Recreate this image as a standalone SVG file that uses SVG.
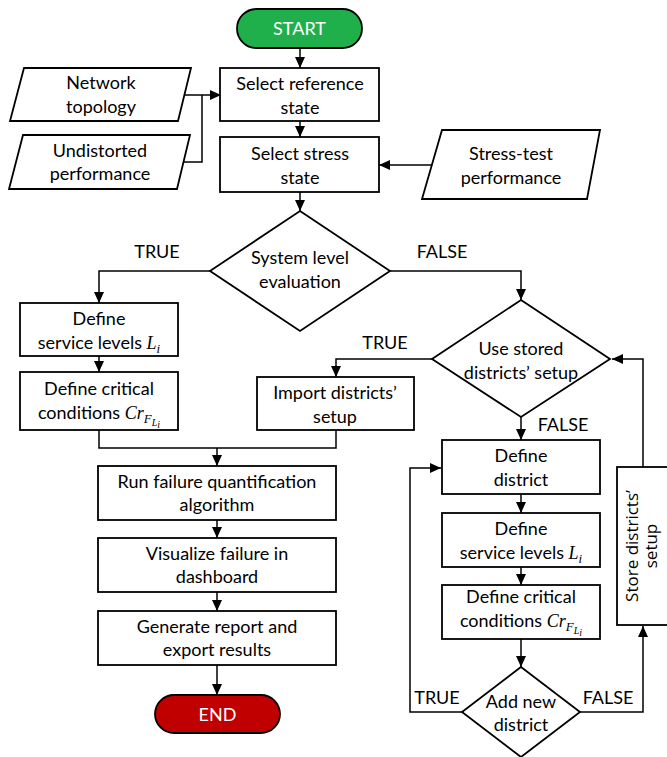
<svg xmlns="http://www.w3.org/2000/svg" width="667" height="757" viewBox="0 0 667 757">
<style>
.b{fill:#fff;stroke:#000;stroke-width:1.8}
.c{fill:none;stroke:#000;stroke-width:1.5}
.t{font-family:Lato,"Open Sans","Liberation Sans",sans-serif;font-size:18px;fill:#000;text-anchor:middle}
.m{font-family:"Liberation Serif","DejaVu Serif",serif;font-style:italic}
.s{font-size:13px}
.ss{font-size:10px}
.w{fill:#fff}
</style>
<defs>
<marker id="a" markerUnits="userSpaceOnUse" markerWidth="11" markerHeight="10" refX="11" refY="5" orient="auto"><path d="M0,0 L11,5 L0,10 z" fill="#000"/></marker>
</defs>
<rect width="667" height="757" fill="#fff"/>
<g id="connectors">
<path class="c" d="M300,48 V68" marker-end="url(#a)"/>
<path class="c" d="M300,121 V137" marker-end="url(#a)"/>
<path class="c" d="M184,95 H221" marker-end="url(#a)"/>
<path class="c" d="M183,162 H202 V95"/>
<path class="c" d="M432,165 H379" marker-end="url(#a)"/>
<path class="c" d="M300,192 V211" marker-end="url(#a)"/>
<path class="c" d="M210,271 H99 V303" marker-end="url(#a)"/>
<path class="c" d="M390,271 H521 V300" marker-end="url(#a)"/>
<path class="c" d="M99,356 V372" marker-end="url(#a)"/>
<path class="c" d="M432,359 H336 V377" marker-end="url(#a)"/>
<path class="c" d="M99,430 V448 H336 V430"/>
<path class="c" d="M217,448 V466" marker-end="url(#a)"/>
<path class="c" d="M217,520 V538" marker-end="url(#a)"/>
<path class="c" d="M217,592 V611" marker-end="url(#a)"/>
<path class="c" d="M217,665 V695" marker-end="url(#a)"/>
<path class="c" d="M521,417 V440" marker-end="url(#a)"/>
<path class="c" d="M521,494 V513" marker-end="url(#a)"/>
<path class="c" d="M521,567 V585" marker-end="url(#a)"/>
<path class="c" d="M521,639 V667" marker-end="url(#a)"/>
<path class="c" d="M462,712 H410 V468 H441" marker-end="url(#a)"/>
<path class="c" d="M580,712 H643 V626" marker-end="url(#a)"/>
<path class="c" d="M643,467 V359 H612" marker-end="url(#a)"/>
<text class="t" x="157" y="258">TRUE</text>
<text class="t" x="442" y="258">FALSE</text>
<text class="t" x="385" y="349">TRUE</text>
<text class="t" x="563" y="431">FALSE</text>
<text class="t" x="437" y="704">TRUE</text>
<text class="t" x="608" y="704">FALSE</text>
</g>
<g id="start">
<rect x="237" y="9" width="125" height="39" rx="19.5" fill="#1fb04b" stroke="#000" stroke-width="1.8"/>
<text class="t w" x="299.5" y="35">START</text>
</g>
<g id="network-topology">
<polygon class="b" points="24,68 191,68 178,121 10,121"/>
<text class="t" x="101" y="89">Network</text>
<text class="t" x="101" y="113">topology</text>
</g>
<g id="undistorted-performance">
<polygon class="b" points="23,135 190,135 177,189 9,189"/>
<text class="t" x="100" y="157">Undistorted</text>
<text class="t" x="100" y="180">performance</text>
</g>
<g id="select-reference">
<rect class="b" x="220" y="68" width="159" height="53"/>
<text class="t" x="300" y="90">Select reference</text>
<text class="t" x="300" y="114">state</text>
</g>
<g id="select-stress">
<rect class="b" x="220" y="137" width="159" height="55"/>
<text class="t" x="300" y="160">Select stress</text>
<text class="t" x="300" y="184">state</text>
</g>
<g id="stress-test-performance">
<polygon class="b" points="442,130 600,130 587,199 422,199"/>
<text class="t" x="511" y="160">Stress-test</text>
<text class="t" x="511" y="184">performance</text>
</g>
<g id="system-level">
<polygon class="b" points="300,211 390,271 300,331 210,271"/>
<text class="t" x="300" y="264">System level</text>
<text class="t" x="300" y="288">evaluation</text>
</g>
<g id="define-service-levels-left">
<rect class="b" x="20" y="303" width="158" height="53"/>
<text class="t" x="99" y="325">Define</text>
<text class="t" x="99" y="349">service levels <tspan class="m">L</tspan><tspan class="m s" dy="4">i</tspan></text>
</g>
<g id="define-critical-left">
<rect class="b" x="20" y="372" width="158" height="58"/>
<text class="t" x="99" y="395">Define critical</text>
<text class="t" x="99" y="419">conditions <tspan class="m">Cr</tspan><tspan class="m s" dy="4">F</tspan><tspan class="m ss" dy="3">L</tspan><tspan class="m ss" dy="2">i</tspan></text>
</g>
<g id="use-stored">
<polygon class="b" points="521,300 610,359 521,417 432,359"/>
<text class="t" x="521" y="355">Use stored</text>
<text class="t" x="521" y="379">districts’ setup</text>
</g>
<g id="import-districts">
<rect class="b" x="257" y="377" width="157" height="53"/>
<text class="t" x="335" y="399">Import districts’</text>
<text class="t" x="335" y="423">setup</text>
</g>
<g id="run-failure">
<rect class="b" x="98" y="466" width="238" height="54"/>
<text class="t" x="217" y="488">Run failure quantification</text>
<text class="t" x="217" y="511">algorithm</text>
</g>
<g id="visualize">
<rect class="b" x="98" y="538" width="238" height="54"/>
<text class="t" x="217" y="560">Visualize failure in</text>
<text class="t" x="217" y="583">dashboard</text>
</g>
<g id="generate-report">
<rect class="b" x="98" y="611" width="238" height="54"/>
<text class="t" x="217" y="633">Generate report and</text>
<text class="t" x="217" y="656">export results</text>
</g>
<g id="end">
<rect x="155" y="695" width="125" height="38" rx="19" fill="#c00000" stroke="#000" stroke-width="1.8"/>
<text class="t w" x="217.5" y="721">END</text>
</g>
<g id="define-district">
<rect class="b" x="442" y="440" width="158" height="54"/>
<text class="t" x="521" y="462">Define</text>
<text class="t" x="521" y="486">district</text>
</g>
<g id="define-service-levels-right">
<rect class="b" x="442" y="513" width="158" height="54"/>
<text class="t" x="521" y="535">Define</text>
<text class="t" x="521" y="559">service levels <tspan class="m">L</tspan><tspan class="m s" dy="4">i</tspan></text>
</g>
<g id="define-critical-right">
<rect class="b" x="442" y="585" width="158" height="54"/>
<text class="t" x="521" y="603">Define critical</text>
<text class="t" x="521" y="627">conditions <tspan class="m">Cr</tspan><tspan class="m s" dy="4">F</tspan><tspan class="m ss" dy="3">L</tspan><tspan class="m ss" dy="2">i</tspan></text>
</g>
<g id="add-new-district">
<polygon class="b" points="521,667 580,712 521,757 462,712"/>
<text class="t" x="521" y="708">Add new</text>
<text class="t" x="521" y="731">district</text>
</g>
<g id="store-districts">
<rect class="b" x="617" y="467" width="60" height="158"/>
<text class="t" transform="translate(638,546) rotate(-90)" x="0" y="0" style="font-family:'Open Sans',sans-serif;font-size:17px">Store districts’</text>
<text class="t" transform="translate(657,546) rotate(-90)" x="0" y="0" style="font-family:'Open Sans',sans-serif;font-size:17px">setup</text>
</g>
</svg>
